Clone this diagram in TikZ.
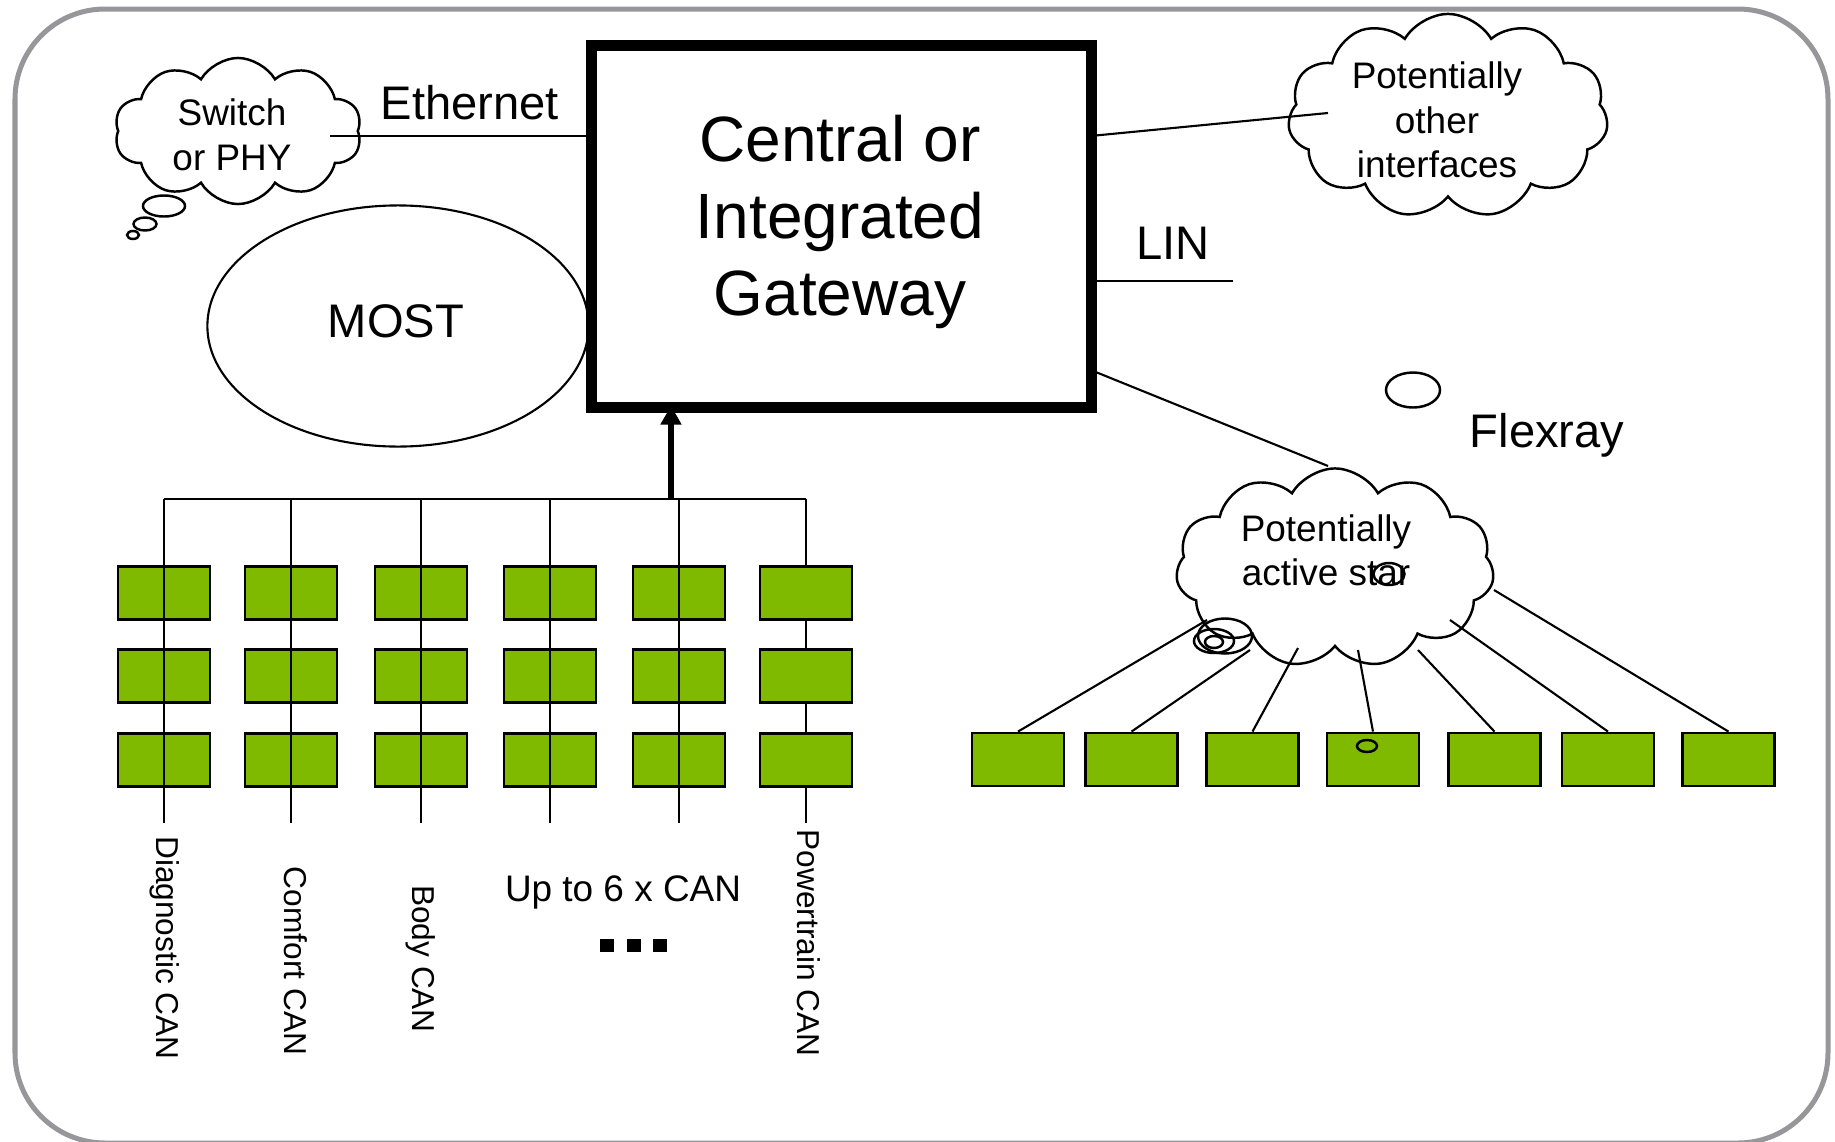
\documentclass[tikz,border=0pt]{standalone}
\usepackage{fontspec}
\setmainfont{Liberation Sans}
\usetikzlibrary{shapes.symbols,shapes.geometric,arrows.meta,calc}
\definecolor{ecugreen}{RGB}{127,186,0}
\definecolor{framegray}{RGB}{150,150,155}

\tikzset{
  wire/.style={line width=0.6pt},
  ecu/.style={draw,line width=0.8pt,fill=ecugreen,minimum width=0.92cm,minimum height=0.53cm,inner sep=0pt},
  puff/.style={cloud,draw,line width=0.7pt,cloud puffs=10,cloud puff arc=120,cloud ignores aspect,inner sep=0pt},
  bubble/.style={ellipse,draw,line width=0.7pt,inner sep=0pt},
  bustxt/.style={inner sep=0pt,font=\fontsize{13.4pt}{16pt}\selectfont},
  cloudtxt/.style={inner sep=0pt,align=center,font=\fontsize{10.5pt}{12.7pt}\selectfont},
  cantxt/.style={inner sep=0pt,font=\fontsize{9pt}{11pt}\selectfont}
}

\begin{document}
\begin{tikzpicture}[x=0.01cm,y=-0.01cm]

  \useasboundingbox (0,0) rectangle (1835,1142);
  \draw[framegray,line width=0.05cm,rounded corners=0.9cm] (15,9) rectangle (1828,1143);

  % gateway and the buses around it
  \node[draw,line width=0.11cm,minimum width=4.99cm,minimum height=3.61cm] (gw) at (841.5,226.5) {};
  \node[inner sep=0pt,align=center,font=\fontsize{18.2pt}{22pt}\selectfont] (gwlbl) at (840,222) {Central or\\Integrated\\Gateway};

  \node[ellipse,draw,wire,minimum width=3.81cm,minimum height=2.41cm] (most) at (398,326) {};
  \node[bustxt,anchor=base] (mostlbl) at (396,337) {MOST};

  \begin{scope}[every node/.style={bustxt,anchor=base}]
    \node (eth)  at (470,119)  {Ethernet};
    \node (lin)  at (1173,259) {LIN};
    \node (flex) at (1547,447) {Flexray};
  \end{scope}

  % clouds
  \node[puff,minimum width=2.47cm,minimum height=1.46cm] (sw) at (238,131) {};
  \node[cloudtxt,font=\fontsize{10.5pt}{12.8pt}\selectfont] (swlbl) at (232,135) {Switch\\or PHY};
  \node[bubble,minimum width=0.42cm,minimum height=0.21cm] (swb1) at (164,206) {};
  \node[bubble,minimum width=0.23cm,minimum height=0.13cm] (swb2) at (145,224) {};
  \node[bubble,minimum width=0.12cm,minimum height=0.08cm] (swb3) at (133,235) {};

  \node[puff,cloud puffs=11,minimum width=3.2cm,minimum height=2.04cm] (oth) at (1448,116) {};
  \node[cloudtxt] (othlbl) at (1437,120) {Potentially\\other\\interfaces};

  \node[puff,cloud puffs=11,minimum width=3.18cm,minimum height=1.99cm] (star) at (1335,568) {};
  \node[cloudtxt,font=\fontsize{10.5pt}{12.5pt}\selectfont] (starlbl) at (1326,550) {Potentially\\active star};

  \coordinate (ethL) at (330,136);
  \coordinate (othE) at (1328,113);
  \coordinate (linE) at (1233,281);
  \coordinate (flxE) at (1328,466);
  \draw[wire] (ethL) -- (ethL -| gw.west);
  \draw[wire] ($(gw.north east)+(0,95)$) -- (othE);
  \draw[wire] (linE -| gw.east) -- (linE);
  \draw[wire] ($(gw.north east)+(0,332)$) -- (flxE);

  % CAN buses
  \foreach \x [count=\i] in {164,291,421,550,679,806} {
    \coordinate (top\i) at (\x,499);
    \coordinate (bot\i) at (\x,823);
  }
  \draw[wire] (top1) -- (top6);
  \draw[wire] (top6) -- (bot6);
  \foreach \x [count=\i] in {164,291,421,550,679,806}
    \foreach \y [count=\j] in {593,676,760}
      \node[ecu] (can\i\j) at (\x,\y) {};
  \foreach \i in {1,...,5}
    \draw[wire] (top\i) -- (bot\i);

  \coordinate (feed) at (671,499);
  \draw[line width=0.06cm,-{Triangle[width=0.2cm,length=0.19cm]},shorten >=-0.07cm] (feed) -- (feed |- gw.south);

  \begin{scope}[every node/.style={cantxt,rotate=-90}]
    \node (diag)  at (165,948) {Diagnostic CAN};
    \node (comf)  at (296,961) {Comfort CAN};
    \node (body)  at (421,959) {Body CAN};
    \node (power) at (809,943) {Powertrain CAN};
  \end{scope}
  \node[inner sep=0pt,anchor=base,font=\fontsize{10.5pt}{12pt}\selectfont] (upto) at (623,901) {Up to 6 x CAN};
  \foreach \x [count=\k] in {607,634,660}
    \node[fill,minimum width=0.14cm,minimum height=0.13cm,inner sep=0pt] (dot\k) at (\x,945) {};

  % Flexray star
  \foreach \x [count=\i] in {1018,1131.5,1252.5,1373,1494.5,1608,1728.5}
    \node[ecu] (fr\i) at (\x,759.5) {};
  \foreach \x/\y [count=\i] in {1207/620,1250/650,1298/648,1358/650,1418/650,1450/620,1494/590}
    \coordinate (st\i) at (\x,\y);
  \foreach \i in {1,...,7}
    \draw[wire] (st\i) -- (fr\i.north);

  \node[bubble,minimum width=0.54cm,minimum height=0.35cm] (stb1) at (1225,636) {};
  \node[bubble,minimum width=0.40cm,minimum height=0.24cm] (stb2) at (1214,641) {};
  \node[bubble,minimum width=0.18cm,minimum height=0.12cm] (stb3) at (1214,642) {};
  \node[bubble,minimum width=0.31cm,minimum height=0.22cm] (stb4) at (1389,574) {};
  \node[bubble,minimum width=0.20cm,minimum height=0.12cm] (stb5) at (1367,746) {};
  \node[bubble,minimum width=0.54cm,minimum height=0.35cm] (stb6) at (1413,390) {};

\end{tikzpicture}
\end{document}
